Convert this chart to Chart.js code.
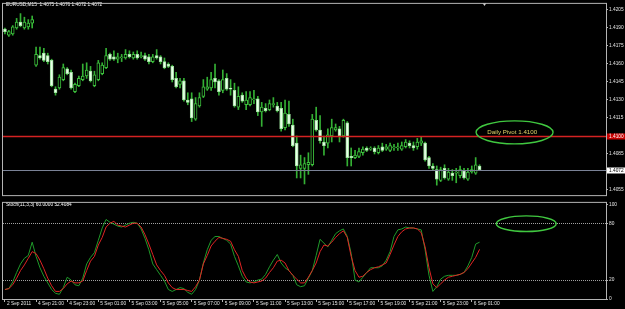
<!DOCTYPE html>
<html>
<head>
<meta charset="utf-8">
<script src="https://cdn.jsdelivr.net/npm/chart.js@4.4.0/dist/chart.umd.min.js"></script>
<style>
html, body { margin: 0; padding: 0; background: #000; }
#wrap { position: relative; width: 625px; height: 309px; overflow: hidden; background: #000; }
#price, #stoch { position: absolute; left: 0; }
#price { top: 0; }
#stoch { top: 199px; }
</style>
</head>
<body>
<div id="wrap">
<canvas id="price" width="625" height="199"></canvas>
<canvas id="stoch" width="625" height="110"></canvas>
</div>
<script>
// EURUSD M15 candles
const opens = [
    1.4189, 1.4184, 1.4185, 1.4190, 1.4195, 1.4190, 1.4191, 1.4194, 1.4159, 1.4167,
    1.4169, 1.4167, 1.4163, 1.4139, 1.4140, 1.4147, 1.4156, 1.4153, 1.4137, 1.4142,
    1.4147, 1.4150, 1.4154, 1.4142, 1.4147, 1.4152, 1.4157, 1.4168, 1.4166, 1.4164,
    1.4165, 1.4165, 1.4168, 1.4165, 1.4168, 1.4166, 1.4167, 1.4166, 1.4162, 1.4167,
    1.4166, 1.4162, 1.4160, 1.4158, 1.4148, 1.4143, 1.4146, 1.4130, 1.4131, 1.4114,
    1.4125, 1.4133, 1.4139, 1.4140, 1.4148, 1.4146, 1.4138, 1.4148, 1.4140, 1.4138,
    1.4124, 1.4134, 1.4126, 1.4126, 1.4130, 1.4131, 1.4120, 1.4123, 1.4122, 1.4126,
    1.4125, 1.4123, 1.4107, 1.4118, 1.4109, 1.4094, 1.4073, 1.4073, 1.4076, 1.4076,
    1.4113, 1.4105, 1.4095, 1.4094, 1.4100, 1.4105, 1.4106, 1.4100, 1.4111, 1.4083,
    1.4082, 1.4083, 1.4086, 1.4090, 1.4089, 1.4090, 1.4086, 1.4091, 1.4089, 1.4088,
    1.4090, 1.4090, 1.4089, 1.4091, 1.4094, 1.4092, 1.4091, 1.4094, 1.4094, 1.4082,
    1.4075, 1.4072, 1.4063, 1.4073, 1.4064, 1.4069, 1.4069, 1.4067, 1.4071, 1.4064,
    1.4070, 1.4069, 1.4075
];
const highs = [
    1.4190, 1.4188, 1.4192, 1.4198, 1.4202, 1.4199, 1.4197, 1.4200, 1.4174, 1.4174,
    1.4173, 1.4169, 1.4164, 1.4141, 1.4151, 1.4160, 1.4157, 1.4155, 1.4144, 1.4150,
    1.4160, 1.4161, 1.4158, 1.4154, 1.4163, 1.4161, 1.4173, 1.4169, 1.4171, 1.4169,
    1.4168, 1.4172, 1.4171, 1.4170, 1.4171, 1.4170, 1.4169, 1.4168, 1.4168, 1.4172,
    1.4167, 1.4165, 1.4161, 1.4159, 1.4153, 1.4148, 1.4148, 1.4136, 1.4136, 1.4132,
    1.4136, 1.4147, 1.4149, 1.4153, 1.4160, 1.4147, 1.4155, 1.4152, 1.4147, 1.4144,
    1.4141, 1.4136, 1.4137, 1.4137, 1.4138, 1.4133, 1.4128, 1.4127, 1.4130, 1.4132,
    1.4128, 1.4128, 1.4130, 1.4129, 1.4114, 1.4100, 1.4084, 1.4082, 1.4086, 1.4118,
    1.4124, 1.4117, 1.4100, 1.4106, 1.4114, 1.4110, 1.4108, 1.4114, 1.4112, 1.4090,
    1.4088, 1.4090, 1.4091, 1.4091, 1.4091, 1.4091, 1.4092, 1.4094, 1.4093, 1.4094,
    1.4093, 1.4094, 1.4095, 1.4097, 1.4096, 1.4095, 1.4098, 1.4099, 1.4095, 1.4083,
    1.4077, 1.4075, 1.4074, 1.4076, 1.4073, 1.4072, 1.4073, 1.4075, 1.4073, 1.4073,
    1.4075, 1.4082, 1.4076
];
const lows = [
    1.4185, 1.4183, 1.4184, 1.4189, 1.4191, 1.4189, 1.4189, 1.4190, 1.4158, 1.4164,
    1.4162, 1.4160, 1.4141, 1.4134, 1.4139, 1.4146, 1.4151, 1.4139, 1.4136, 1.4141,
    1.4146, 1.4148, 1.4145, 1.4141, 1.4146, 1.4151, 1.4156, 1.4163, 1.4163, 1.4161,
    1.4162, 1.4164, 1.4165, 1.4164, 1.4164, 1.4165, 1.4163, 1.4160, 1.4161, 1.4164,
    1.4160, 1.4156, 1.4157, 1.4145, 1.4140, 1.4140, 1.4129, 1.4126, 1.4112, 1.4113,
    1.4124, 1.4132, 1.4138, 1.4138, 1.4140, 1.4134, 1.4136, 1.4138, 1.4134, 1.4124,
    1.4122, 1.4128, 1.4122, 1.4125, 1.4127, 1.4117, 1.4108, 1.4120, 1.4121, 1.4124,
    1.4120, 1.4104, 1.4105, 1.4108, 1.4091, 1.4065, 1.4065, 1.4060, 1.4068, 1.4075,
    1.4104, 1.4094, 1.4084, 1.4090, 1.4095, 1.4104, 1.4095, 1.4099, 1.4075, 1.4075,
    1.4081, 1.4082, 1.4084, 1.4087, 1.4088, 1.4085, 1.4085, 1.4087, 1.4088, 1.4087,
    1.4088, 1.4088, 1.4088, 1.4090, 1.4090, 1.4088, 1.4089, 1.4092, 1.4079, 1.4073,
    1.4072, 1.4059, 1.4062, 1.4064, 1.4063, 1.4063, 1.4061, 1.4065, 1.4064, 1.4063,
    1.4069, 1.4068, 1.4072
];
const closes = [
    1.4187, 1.4187, 1.4191, 1.4195, 1.4192, 1.4195, 1.4194, 1.4197, 1.4168, 1.4165,
    1.4163, 1.4162, 1.4142, 1.4136, 1.4149, 1.4157, 1.4152, 1.4140, 1.4143, 1.4148,
    1.4150, 1.4155, 1.4146, 1.4151, 1.4161, 1.4159, 1.4167, 1.4164, 1.4164, 1.4166,
    1.4166, 1.4168, 1.4166, 1.4168, 1.4165, 1.4167, 1.4164, 1.4162, 1.4166, 1.4165,
    1.4162, 1.4157, 1.4158, 1.4147, 1.4141, 1.4146, 1.4130, 1.4128, 1.4115, 1.4127,
    1.4132, 1.4141, 1.4141, 1.4147, 1.4145, 1.4137, 1.4147, 1.4139, 1.4139, 1.4125,
    1.4133, 1.4129, 1.4130, 1.4132, 1.4131, 1.4120, 1.4124, 1.4121, 1.4127, 1.4127,
    1.4121, 1.4106, 1.4119, 1.4110, 1.4092, 1.4075, 1.4076, 1.4077, 1.4078, 1.4114,
    1.4105, 1.4096, 1.4092, 1.4101, 1.4107, 1.4107, 1.4100, 1.4113, 1.4082, 1.4082,
    1.4084, 1.4087, 1.4089, 1.4088, 1.4090, 1.4087, 1.4090, 1.4088, 1.4091, 1.4092,
    1.4091, 1.4091, 1.4092, 1.4095, 1.4092, 1.4090, 1.4095, 1.4096, 1.4080, 1.4075,
    1.4073, 1.4064, 1.4072, 1.4065, 1.4070, 1.4067, 1.4070, 1.4072, 1.4065, 1.4070,
    1.4072, 1.4076, 1.4072
];

// Stochastic(11,3,3): main (green) and signal (red)
const stochMain = [
    10, 11, 18, 28, 37, 43, 46, 60, 45, 33,
    24, 17, 10, 6, 5, 12, 23, 20, 15, 14,
    22, 37, 44, 49, 62, 75, 84, 81, 79, 77,
    76, 78, 80, 81, 80, 74, 64, 52, 37, 31,
    25, 19, 10, 8, 10, 12, 11, 7, 5, 10,
    20, 38, 52, 62, 66, 66, 64, 62, 58, 45,
    35, 24, 18, 17, 18, 20, 21, 26, 34, 41,
    47, 38, 33, 30, 25, 15, 13, 14, 22, 30,
    46, 63, 59, 55, 62, 69, 72, 74, 66, 48,
    20, 18, 23, 28, 33, 33, 33, 35, 41, 50,
    66, 73, 74, 76, 75, 75, 74, 73, 52, 25,
    8, 13, 21, 24, 25, 25, 25, 26, 28, 35,
    44, 58, 60
];
const stochSignal = [
    10, 11, 15, 22, 30, 36, 43, 50, 48, 41,
    32, 22, 14, 8, 8, 11, 16, 19, 17, 17,
    19, 30, 40, 45, 57, 65, 76, 80, 82, 78,
    77, 76, 78, 80, 80, 76, 68, 58, 47, 36,
    30, 25, 17, 12, 10, 10, 10, 9, 8, 13,
    20, 37, 46, 56, 61, 65, 64, 63, 61, 52,
    45, 30, 22, 18, 17, 18, 19, 22, 28, 33,
    40, 41, 38, 30, 25, 21, 17, 17, 23, 30,
    38, 50, 57, 56, 60, 65, 69, 72, 65, 45,
    30, 23, 24, 28, 31, 33, 34, 36, 38, 47,
    57, 66, 71, 74, 75, 75, 74, 70, 55, 33,
    16, 12, 16, 20, 23, 24, 25, 26, 28, 32,
    38, 44, 52.4084
];

const priceTicks = [1.4055, 1.4070, 1.4085, 1.4100, 1.4115, 1.4130, 1.4145, 1.4160, 1.4175, 1.4190, 1.4205];
const stochTicks = [0, 20, 80, 100];
const stochLevels = [20, 80];
const timeTickIndex = [0, 8, 16, 24, 32, 40, 48, 56, 64, 72, 80, 88, 96, 104, 112, 120];
const timeTickText = ['2 Sep 2011', '4 Sep 21:00', '4 Sep 23:00', '5 Sep 01:00', '5 Sep 03:00',
    '5 Sep 05:00', '5 Sep 07:00', '5 Sep 09:00', '5 Sep 11:00', '5 Sep 13:00', '5 Sep 15:00',
    '5 Sep 17:00', '5 Sep 19:00', '5 Sep 21:00', '5 Sep 23:00', '6 Sep 01:00'];
const pivotPrice = 1.4100;
const bidPrice = 1.4072;

// bar slots: the candles plus the empty shift space on the right
const slots = Array.from({ length: 155 }, (_, i) => i);

const FONT = 'Liberation Sans';
const FRAME = '#b4b4b4';
const AXIS_TEXT = '#e4e4e4';
const GREEN = '#3cbf3c';
const WICK = '#34b034';
const BEAR_FILL = '#eaffea';

const last = closes.length - 1;

const frame = {
    id: 'frame',
    afterDraw(chart) {
        const { ctx, chartArea: a } = chart;
        ctx.save();
        ctx.strokeStyle = FRAME;
        ctx.lineWidth = 1;
        ctx.strokeRect(a.left - 0.5, a.top - 0.5, a.right - a.left + 1, a.bottom - a.top + 1);
        ctx.restore();
    }
};

function ellipse(ctx, cx, cy, rx, ry) {
    ctx.beginPath();
    ctx.ellipse(cx, cy, rx, ry, 0, 0, Math.PI * 2);
    ctx.stroke();
}

function priceTag(ctx, a, yPix, text, bg, fg) {
    ctx.fillStyle = bg;
    ctx.fillRect(a.right + 1, yPix - 3, 625 - a.right - 1, 6);
    ctx.fillStyle = fg;
    ctx.font = '4.8px "' + FONT + '"';
    ctx.textBaseline = 'middle';
    ctx.textAlign = 'left';
    ctx.fillText(text, a.right + 3, yPix + 0.3);
}

const priceOverlay = {
    id: 'priceOverlay',
    afterDatasetsDraw(chart) {
        const { ctx, chartArea: a, scales: { x, y } } = chart;
        ctx.save();
        // pivot line
        const py = Math.round(y.getPixelForValue(pivotPrice)) + 0.5;
        ctx.strokeStyle = '#d42222';
        ctx.lineWidth = 1.5;
        ctx.beginPath(); ctx.moveTo(a.left, py); ctx.lineTo(a.right, py); ctx.stroke();
        // bid line
        const by = Math.round(y.getPixelForValue(bidPrice)) + 0.5;
        ctx.strokeStyle = '#7a8296';
        ctx.lineWidth = 1;
        ctx.beginPath(); ctx.moveTo(a.left, by); ctx.lineTo(a.right, by); ctx.stroke();
        // note
        ctx.strokeStyle = '#40c840';
        ctx.lineWidth = 1.4;
        ellipse(ctx, x.getPixelForValue(131), y.getPixelForValue(1.4103), 38.5, 11.5);
        ctx.fillStyle = '#e2d46a';
        ctx.font = '6.2px "' + FONT + '"';
        ctx.textAlign = 'center';
        ctx.textBaseline = 'middle';
        ctx.fillText('Daily Pivot 1.4100', x.getPixelForValue(130.4), y.getPixelForValue(1.41028));
        ctx.restore();
    },
    afterDraw(chart) {
        const { ctx, chartArea: a, scales: { x, y } } = chart;
        ctx.save();
        priceTag(ctx, a, Math.round(y.getPixelForValue(pivotPrice)) + 0.5, pivotPrice.toFixed(4), '#c80000', '#ffffff');
        priceTag(ctx, a, Math.round(y.getPixelForValue(bidPrice)) + 0.5, bidPrice.toFixed(4), '#ffffff', '#000000');
        // title
        ctx.fillStyle = '#ffffff';
        ctx.font = '4.8px "' + FONT + '"';
        ctx.textAlign = 'left';
        ctx.textBaseline = 'middle';
        const ohlc = [opens[last], highs[last], lows[last], closes[last]].map(v => v.toFixed(4)).join(' ');
        ctx.fillText('EURUSD,M15  ' + ohlc, 6, 5);
        // chart shift marker
        const sx = x.getPixelForValue(closes.length) + 1;
        ctx.fillStyle = '#d0d0d0';
        ctx.beginPath();
        ctx.moveTo(sx - 2, a.top - 1); ctx.lineTo(sx + 2, a.top - 1); ctx.lineTo(sx, a.top + 2);
        ctx.closePath(); ctx.fill();
        ctx.restore();
    }
};

const stochOverlay = {
    id: 'stochOverlay',
    beforeDatasetsDraw(chart) {
        const { ctx, chartArea: a, scales: { y } } = chart;
        ctx.save();
        ctx.strokeStyle = '#a0a0a0';
        ctx.lineWidth = 1;
        ctx.setLineDash([1, 1]);
        stochLevels.forEach(v => {
            const ly = Math.round(y.getPixelForValue(v)) + 0.5;
            ctx.beginPath(); ctx.moveTo(a.left, ly); ctx.lineTo(a.right, ly); ctx.stroke();
        });
        ctx.restore();
    },
    afterDraw(chart) {
        const { ctx, scales: { x, y } } = chart;
        ctx.save();
        ctx.strokeStyle = '#40c840';
        ctx.lineWidth = 1.4;
        ellipse(ctx, x.getPixelForValue(134), y.getPixelForValue(79.5), 30, 7.8);
        ctx.fillStyle = '#ffffff';
        ctx.font = '4.8px "' + FONT + '"';
        ctx.textAlign = 'left';
        ctx.textBaseline = 'middle';
        ctx.fillText('Stoch(11,3,3) ' + stochMain[last].toFixed(4) + ' ' + stochSignal[last].toFixed(4), 6, 6);
        ctx.restore();
    }
};

function rightAxis(min, max, ticks, fmt) {
    return {
        position: 'right',
        min: min,
        max: max,
        afterFit: axis => { axis.width = 19; },
        afterBuildTicks: axis => { axis.ticks = ticks.map(v => ({ value: v })); },
        grid: { drawOnChartArea: false, drawTicks: true, tickLength: 2, tickColor: FRAME },
        border: { display: false },
        ticks: {
            color: AXIS_TEXT,
            font: { family: FONT, size: 4.8 },
            padding: 1,
            callback: fmt
        }
    };
}

const candleChart = new Chart(document.getElementById('price'), {
    type: 'bar',
    data: {
        labels: slots,
        datasets: [{
            label: 'body',
            data: opens.map((o, i) => [Math.min(o, closes[i]), Math.max(o, closes[i])]),
            backgroundColor: opens.map((o, i) => closes[i] < o ? BEAR_FILL : '#000000'),
            borderColor: opens.map((o, i) => closes[i] < o ? '#9ee29e' : GREEN),
            borderWidth: 1,
            borderSkipped: false,
            barThickness: 3,
            minBarLength: 1,
            grouped: false,
            order: 0
        }, {
            label: 'wick',
            data: lows.map((l, i) => [l, highs[i]]),
            backgroundColor: WICK,
            barThickness: 1,
            grouped: false,
            order: 1
        }]
    },
    options: {
        responsive: false,
        animation: false,
        devicePixelRatio: 1,
        events: [],
        layout: { padding: { left: 3, top: 2, bottom: 1, right: 0 } },
        plugins: { legend: { display: false }, tooltip: { enabled: false } },
        scales: {
            x: { display: false, offset: true },
            y: rightAxis(1.40507, 1.42101, priceTicks, v => v.toFixed(4))
        }
    },
    plugins: [priceOverlay, frame]
});

const stochChart = new Chart(document.getElementById('stoch'), {
    type: 'line',
    data: {
        labels: slots,
        datasets: [{
            label: 'signal',
            data: stochSignal,
            borderColor: '#e02424',
            borderWidth: 1,
            pointRadius: 0,
            tension: 0
        }, {
            label: 'main',
            data: stochMain,
            borderColor: '#1f9a2a',
            borderWidth: 1,
            pointRadius: 0,
            tension: 0
        }]
    },
    options: {
        responsive: false,
        animation: false,
        devicePixelRatio: 1,
        events: [],
        layout: { padding: { left: 3, top: 1, bottom: 0, right: 0 } },
        plugins: { legend: { display: false }, tooltip: { enabled: false } },
        scales: {
            x: {
                position: 'bottom',
                offset: true,
                afterFit: axis => { axis.height = 10; },
                afterBuildTicks: axis => { axis.ticks = timeTickIndex.map(v => ({ value: v })); },
                grid: { drawOnChartArea: false, offset: false, drawTicks: true, tickLength: 3, tickColor: FRAME },
                border: { display: false },
                ticks: {
                    autoSkip: false,
                    maxRotation: 0,
                    minRotation: 0,
                    align: 'start',
                    labelOffset: 2,
                    padding: -1,
                    color: AXIS_TEXT,
                    font: { family: FONT, size: 4.8 },
                    callback: (v, i) => timeTickText[i]
                }
            },
            y: rightAxis(0, 101.5, stochTicks, v => String(v))
        }
    },
    plugins: [stochOverlay, frame]
});
</script>
</body>
</html>
